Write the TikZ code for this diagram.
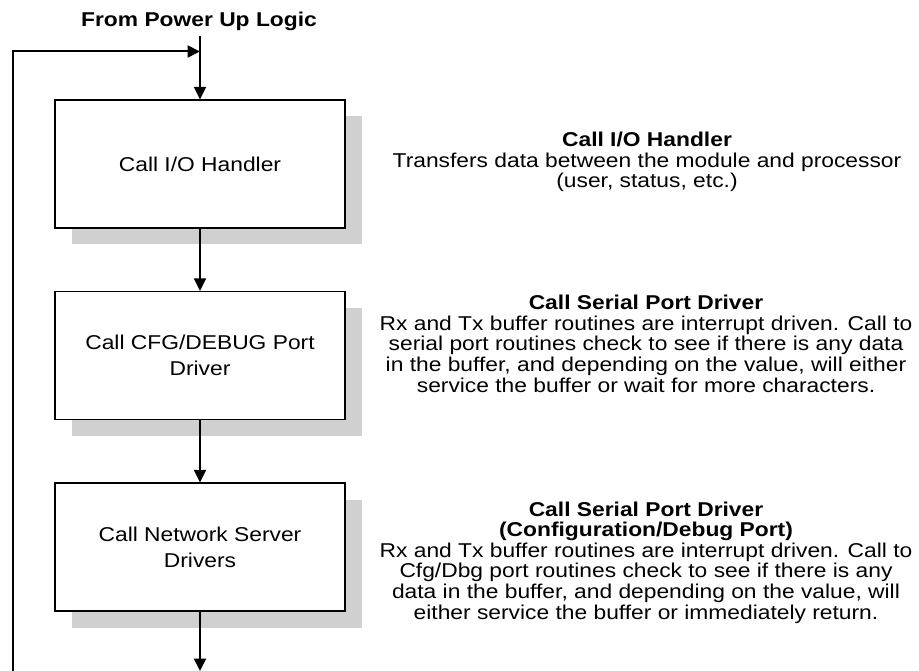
\documentclass[tikz,border=0pt]{standalone}
\usepackage{fontspec}
\setmainfont{Liberation Sans}[FakeStretch=1.14]
\usetikzlibrary{arrows.meta,shadows}
\definecolor{shadowgray}{RGB}{208,208,208}
\tikzset{
  box/.style={draw, line width=1.2pt, fill=white, minimum width=290pt,
    minimum height=128pt, inner sep=0pt, align=center,
    font=\fontsize{20}{25.7}\selectfont,
    drop shadow={shadow xshift=17pt, shadow yshift=-16.5pt, opacity=1, fill=shadowgray}},
  desc/.style={align=center, inner sep=0pt, anchor=base,
    font=\fontsize{20}{20.6}\selectfont},
  heading/.style={inner sep=0pt, anchor=base, font=\bfseries\fontsize{20}{24}\selectfont},
  flow/.style={line width=2pt, -{Triangle[length=12.5pt,width=12pt]}}
}
\begin{document}
\begin{tikzpicture}[x=1pt,y=-1pt]
\useasboundingbox (0,0) rectangle (919,671);

\node[heading] (title) at (199,27) {From Power Up Logic};

\node[box] (b1) at (200,164) {Call I/O Handler};
\node[box] (b2) at (200,355.5) {Call CFG/DEBUG Port\\Driver};
\node[box] (b3) at (200,547) {Call Network Server\\Drivers};

\coordinate (start) at (200,36);
\coordinate (join) at (200,51.5);
\coordinate (loopend) at (13,671);
\coordinate (exit) at (200,671);

\draw[flow] (start) -- (b1.north);
\draw[flow] (b1.south) -- (b2.north);
\draw[flow] (b2.south) -- (b3.north);
\draw[flow] (b3.south) -- (exit);
\draw[flow] (loopend) |- (join);

% anchor=base refers to the baseline of the last line
\node[desc] (d1) at (647,188) {\textbf{Call I/O Handler}\\Transfers data between the module and processor\\(user, status, etc.)};
\node[desc] (d2) at (646,392) {\textbf{Call Serial Port Driver}\\Rx and Tx buffer routines are interrupt driven. Call to\\serial port routines check to see if there is any data\\in the buffer, and depending on the value, will either\\service the buffer or wait for more characters.};
\node[desc] (d3) at (646,619) {\textbf{Call Serial Port Driver}\\\textbf{(Configuration/Debug Port)}\\Rx and Tx buffer routines are interrupt driven. Call to\\Cfg/Dbg port routines check to see if there is any\\data in the buffer, and depending on the value, will\\either service the buffer or immediately return.};
\end{tikzpicture}
\end{document}
